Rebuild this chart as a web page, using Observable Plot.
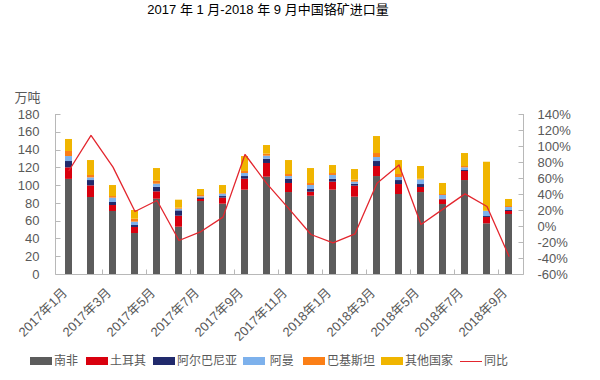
<!DOCTYPE html>
<html><head><meta charset="utf-8">
<script src="https://cdn.jsdelivr.net/npm/d3@7"></script>
<script src="https://cdn.jsdelivr.net/npm/@observablehq/plot@0.6"></script>
<style>
body{margin:0;background:#fff;font-family:"Liberation Sans","Noto Sans CJK SC",sans-serif;}
#wrap{position:relative;width:600px;height:380px;}
#title{position:absolute;left:0;top:0;width:536px;height:20px;line-height:20px;text-align:center;font-size:13px;color:#000;font-family:"Liberation Sans","Noto Sans CJK SC",sans-serif;}
#chart{position:absolute;left:0;top:20px;}
#legend{position:absolute;left:0;top:350px;width:600px;height:20px;font-size:12px;color:#595959;}
.item{position:absolute;top:0;height:20px;line-height:20px;white-space:nowrap;}
.sw{display:inline-block;width:22px;height:8px;vertical-align:middle;margin-right:2px;position:relative;top:-1px;}
.ln{display:inline-block;width:22px;height:0;border-top:1.3px solid #e3262e;vertical-align:middle;margin-right:2px;}
</style></head>
<body>
<div id="wrap">
<div id="title">2017 年 1 月-2018 年 9 月中国铬矿进口量</div>
<div id="chart"></div>
<div id="legend"></div>
</div>
<script>
const months = ["2017年1月","2017年2月","2017年3月","2017年4月","2017年5月","2017年6月","2017年7月","2017年8月","2017年9月","2017年10月","2017年11月","2017年12月","2018年1月","2018年2月","2018年3月","2018年4月","2018年5月","2018年6月","2018年7月","2018年8月","2018年9月"];
const tickLabels = ["2017年1月","2017年3月","2017年5月","2017年7月","2017年9月","2017年11月","2018年1月","2018年3月","2018年5月","2018年7月","2018年9月"];
const seriesNames = ["南非","土耳其","阿尔巴尼亚","阿曼","巴基斯坦","其他国家"];
const seriesColors = ["#5c5c5c","#d9000e","#212a6c","#7db1ec","#fb7f16","#f0b500"];
const southAfrica = [107, 86.6, 70.9, 46.1, 84.7, 53.2, 82.1, 79.1, 94.9, 109.5, 92.2, 88.1, 94.9, 87, 110.2, 90, 92.2, 78.7, 105.7, 57, 67.5];
const turkey      = [13, 13.1, 6.7, 6.8, 8.3, 12.4, 2.3, 6.8, 12.3, 15.4, 10.2, 4.5, 9, 12.4, 11.3, 11.2, 5.7, 5.3, 10.2, 7.1, 3.4];
const albania     = [7.1, 6, 3.4, 2.2, 5.2, 6, 1.8, 1.8, 3, 4.8, 4.8, 3, 3.3, 2.2, 5.6, 4.5, 3.3, 0.7, 1.1, 1.1, 1.1];
const oman        = [5.6, 3, 4.9, 3.8, 3.4, 1.9, 1.2, 2.7, 3.4, 3.4, 3, 4.5, 4.2, 2.3, 4.5, 3.4, 5.3, 4.2, 3, 5.7, 3.4];
const pakistan    = [5.7, 2.7, 1.8, 3.3, 3.4, 1.1, 1.5, 0.7, 2.3, 2.3, 2.3, 2.3, 2.2, 2.2, 4.5, 3.4, 0.7, 1.1, 1.5, 0.3, 1.1];
const others      = [13.5, 16.8, 12.4, 9.8, 14.2, 9, 6.7, 9, 16.8, 9.7, 15.7, 16.8, 9, 12, 19.1, 15.7, 14.3, 12.4, 14.6, 55.1, 7.9];
const yoy         = [70, 113.8, 74.2, 18.8, 32.5, -17.5, -6.3, 11.7, 90, 53.3, 22, -10, -20.4, -9.2, 54.2, 77, 2.5, 21.7, 40.8, 25, -37.1];
const leftTicks = [0,20,40,60,80,100,120,140,160,180];
const rightTicks = [-60,-40,-20,0,20,40,60,80,100,120,140];

const seriesValues = [southAfrica, turkey, albania, oman, pakistan, others];
const table = seriesNames.flatMap((s, si) => months.map((m, i) => ({month: m, series: s, value: seriesValues[si][i]})));
const lineData = months.map((m, i) => ({month: m, pct: yoy[i]}));
// secondary axis: -60%..140% maps onto the 0..180 primary domain
const toPrimary = p => (p + 60) * 0.9;
const fromPrimary = v => v / 0.9 - 60;

function frameLines(index, scales, values, dims) {
  const {x, y} = scales;
  const x0 = dims.marginLeft + 0.5, x1 = dims.width - dims.marginRight + 0.5;
  const yb = Math.round(y(0)) + 0.5, yt = y(180);
  const g = d3.create("svg:g").attr("stroke", "#b8b8b8").attr("fill", "none").attr("stroke-width", 1);
  let d = `M${x0},${yt}V${yb}H${x1}V${yt}`;
  for (const v of leftTicks) d += `M${x0},${Math.round(y(v))+0.5}h5`;
  for (const p of rightTicks) d += `M${x1},${Math.round(y(toPrimary(p)))+0.5}h-5`;
  const off = (x.step() - x.bandwidth()) / 2;
  months.forEach((m, k) => { if (k > 0 && k % 2 === 0) d += `M${Math.round(x(m) - off)+0.5},${yb}v-5`; });
  g.append("path").attr("d", d);
  return g.node();
}

const plot = Plot.plot({
  width: 600,
  height: 330,
  marginTop: 94,
  marginBottom: 76,
  marginLeft: 55,
  marginRight: 77,
  style: {fontFamily: '"Liberation Sans","Noto Sans CJK SC",sans-serif', color: "#595959", background: "transparent"},
  x: {domain: months, type: "band", paddingInner: 0.68, paddingOuter: 0.34},
  y: {domain: [0, 180]},
  color: {domain: seriesNames, range: seriesColors},
  marks: [
    Plot.barY(table, {x: "month", y: "value", fill: "series", order: seriesNames}),
    Plot.lineY(lineData, {x: "month", y: d => toPrimary(d.pct), stroke: "#e3262e", strokeWidth: 1.3}),
    frameLines,
    Plot.axisY({anchor: "left", ticks: leftTicks, tickSize: 0, tickPadding: 16, fontSize: 13, label: null}),
    Plot.axisY({anchor: "right", ticks: rightTicks.map(toPrimary), tickSize: 0, tickPadding: 14, fontSize: 13, label: null, tickFormat: v => Math.round(fromPrimary(v)) + "%"}),
    Plot.axisX({anchor: "bottom", ticks: tickLabels, tickSize: 0, tickPadding: 16, dx: -4, tickRotate: -45, fontSize: 13, label: null}),
    Plot.text(["万吨"], {frameAnchor: "top-left", dx: -41, dy: -22, textAnchor: "start", fontSize: 13, fill: "#595959"})
  ]
});
document.getElementById("chart").appendChild(plot);

const legendItems = [
  {name: "南非", color: seriesColors[0], left: 30},
  {name: "土耳其", color: seriesColors[1], left: 86},
  {name: "阿尔巴尼亚", color: seriesColors[2], left: 153},
  {name: " 阿曼", color: seriesColors[3], left: 243},
  {name: "巴基斯坦", color: seriesColors[4], left: 303},
  {name: "其他国家", color: seriesColors[5], left: 381},
  {name: "同比", color: null, left: 460}
];
const lg = document.getElementById("legend");
for (const it of legendItems) {
  const el = document.createElement("div");
  el.className = "item";
  el.style.left = it.left + "px";
  el.innerHTML = (it.color ? `<span class="sw" style="background:${it.color}"></span>` : `<span class="ln"></span>`) + `<span style="font-family:'Noto Sans CJK SC',sans-serif">${it.name.replace(/ /g,"&nbsp;")}</span>`;
  lg.appendChild(el);
}
</script>
</body></html>
